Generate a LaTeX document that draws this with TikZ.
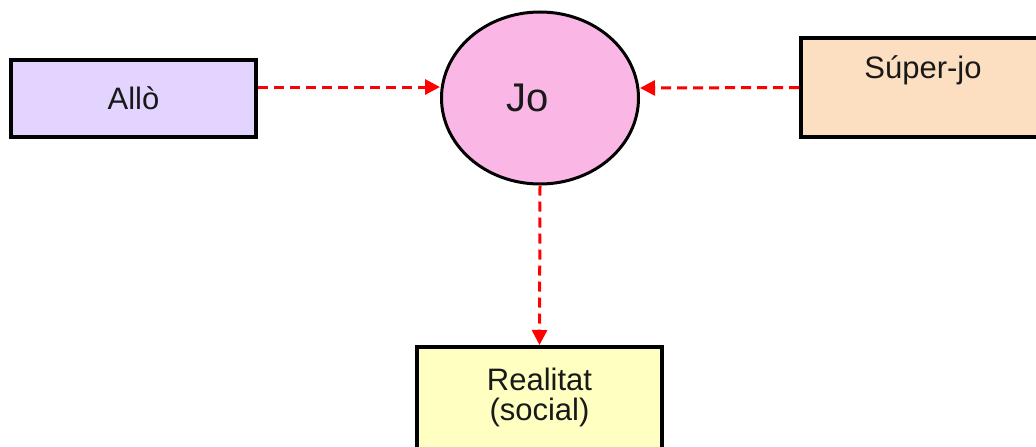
\documentclass[tikz,border=0pt]{standalone}
\usepackage{fontspec}
\setmainfont{Liberation Sans}
\usetikzlibrary{shapes.geometric,arrows.meta}
\definecolor{lav}{RGB}{226,212,255}
\definecolor{pinkjo}{RGB}{250,182,228}
\definecolor{peach}{RGB}{252,222,192}
\definecolor{lyellow}{RGB}{255,255,194}
\definecolor{arrred}{RGB}{255,0,0}
\tikzset{
  box/.style={draw=black, line width=4pt, rectangle, inner sep=0pt},
  lbl/.style={font=\fontsize{31}{36}\selectfont, text=black!90, align=center, inner sep=0pt},
  conn/.style={draw=arrred, line width=3pt, dash pattern=on 10pt off 6pt, -{Triangle[length=15pt,width=15pt]}}
}
\begin{document}
\begin{tikzpicture}[x=1pt,y=-1pt]
\useasboundingbox (0,0) rectangle (1036,447);
\node[box, fill=lav, minimum width=245pt, minimum height=77pt] (allo) at (133.5,98.5) {};
\node[lbl] (allot) at (133.5,98) {Allò};
\node[draw=black, line width=3pt, ellipse, fill=pinkjo, minimum width=197pt, minimum height=172pt, inner sep=0pt] (jo) at (540,98) {};
\node[lbl, font=\fontsize{40}{46}\selectfont] (jot) at (528,98) {Jo};
\node[box, fill=peach, minimum width=245pt, minimum height=99pt] (sj) at (923.5,87.5) {};
\node[lbl] (sjt) at (923,70) {Súper-jo};
\node[box, fill=lyellow, minimum width=245pt, minimum height=108pt] (real) at (539.5,401) {};
\node[lbl, font=\fontsize{31}{30}\selectfont] (realt) at (539.5,397) {Realitat\\(social)};
\draw[conn] ([yshift=11.5pt]allo.east) -- ([yshift=11pt]jo.west);
\draw[conn] (sj.west) -- ([yshift=10pt]jo.east);
\draw[conn] (jo.south) -- (real.north);
\end{tikzpicture}
\end{document}
